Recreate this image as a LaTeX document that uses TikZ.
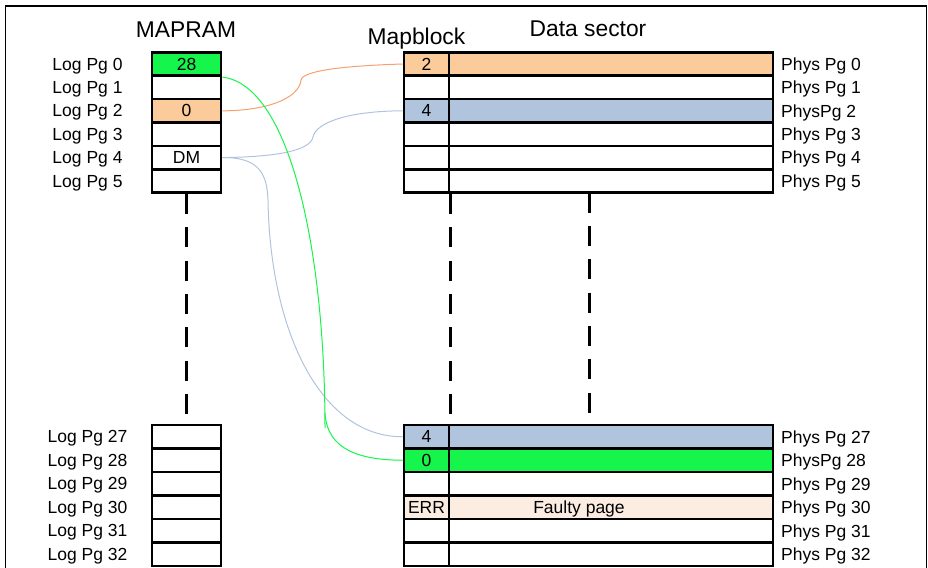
\documentclass[tikz,border=0pt]{standalone}
\usepackage{fontspec}
\setmainfont{Liberation Sans}
\usepackage{xcolor}

\definecolor{mapgreen}{RGB}{22,245,75}
\definecolor{maporange}{RGB}{251,203,155}
\definecolor{orangeline}{RGB}{245,160,112}
\definecolor{mapblue}{RGB}{176,196,222}
\definecolor{faulty}{RGB}{252,237,227}

\tikzset{
	cell/.style={draw, line width=2.8pt, minimum height=23.4pt, inner sep=0pt, text depth=0pt, font=\fontsize{17.5}{20}\selectfont},
	ramcell/.style={cell, minimum width=69pt},
	mbcell/.style={cell, minimum width=45pt},
	datacell/.style={cell, minimum width=324pt},
	pglabel/.style={inner sep=0pt, text depth=0pt, font=\fontsize{17.5}{20}\selectfont},
	title/.style={anchor=base, inner sep=0pt, font=\fontsize{22.8}{26}\selectfont},
	gap/.style={line width=3pt, dash pattern=on 20pt off 13.3pt},
	link/.style={line width=1pt}
}

\begin{document}
\begin{tikzpicture}[x=1pt, y=-1pt]
	\useasboundingbox (0,0) rectangle (928,567);
	\draw [line width=1.5pt] (5.3,6) rectangle (926.5,600);
	\node [title] (mapram) at (186,37.3) {MAPRAM};
	\node [title] (mapblock) at (416.5,45) {Mapblock};
	\node [title] (datasector) at (588,36.7) {Data sector};
	% upper pages
	\foreach \i/\phys in {0/Phys Pg 0, 1/Phys Pg 1, 2/PhysPg 2, 3/Phys Pg 3, 4/Phys Pg 4, 5/Phys Pg 5} {
		\node [ramcell] (m\i) at (186.5,{64+23.4*\i}) {};
		\node [mbcell] (mb\i) at (426.5,{64+23.4*\i}) {};
		\node [datacell] (d\i) at (611,{64+23.4*\i}) {};
		\node [pglabel] (log\i) at (87.5,{64+23.4*\i}) {Log Pg \i};
		\node [pglabel, anchor=west] (phys\i) at (781,{64+23.4*\i}) {\phys};
	}
	% lower pages
	\foreach \i/\n/\phys in {0/27/Phys Pg 27, 1/28/PhysPg 28, 2/29/Phys Pg 29, 3/30/Phys Pg 30, 4/31/Phys Pg 31, 5/32/Phys Pg 32} {
		\node [ramcell, minimum height=23.5pt] (m\n) at (186.5,{436.75+23.5*\i}) {};
		\node [mbcell, minimum height=23.5pt] (mb\n) at (426.5,{436.75+23.5*\i}) {};
		\node [datacell, minimum height=23.5pt] (d\n) at (611,{436.75+23.5*\i}) {};
		\node [pglabel] (log\n) at (87.5,{436.75+23.5*\i}) {Log Pg \n};
		\node [pglabel, anchor=west] (phys\n) at (781,{436.75+23.5*\i}) {\phys};
	}
	% filled entries
	\node [ramcell, fill=mapgreen] (m0) at (m0) {28};
	\node [ramcell, fill=maporange] (m2) at (m2) {0};
	\node [ramcell] (m4) at (m4) {DM};
	\node [mbcell, fill=maporange] (mb0) at (mb0) {2};
	\node [datacell, fill=maporange] (d0) at (d0) {};
	\node [mbcell, fill=mapblue] (mb2) at (mb2) {4};
	\node [datacell, fill=mapblue] (d2) at (d2) {};
	\node [mbcell, fill=mapblue, minimum height=23.5pt] (mb27) at (mb27) {4};
	\node [datacell, fill=mapblue, minimum height=23.5pt] (d27) at (d27) {};
	\node [mbcell, fill=mapgreen, minimum height=23.5pt] (mb28) at (mb28) {0};
	\node [datacell, fill=mapgreen, minimum height=23.5pt] (d28) at (d28) {};
	\node [mbcell, fill=faulty, minimum height=23.5pt] (mb30) at (mb30) {ERR};
	\node [datacell, fill=faulty, minimum height=23.5pt] (d30) at (d30) {};
	\node [pglabel] (faultytext) at (579,507.25) {Faulty page};
	% skipped pages
	\coordinate (gaptop) at (589,192.7);
	\coordinate (gapbot) at (589,425);
	\draw [gap] (m5.south) -- (m27.north);
	\draw [gap] (mb5.south east) -- (mb27.north east);
	\draw [gap] (gaptop) -- (gapbot);
	% links
	\draw [link, orangeline] (m2.east) .. controls (262,111) and (299,100) .. (301,80) .. controls (303,71) and (340,66) .. (mb0.west);
	\draw [link, mapblue] (m4.east) .. controls (270,157) and (310,152) .. (313,137) .. controls (316,122) and (350,111) .. (mb2.west);
	\draw [link, mapblue] (m4.east) .. controls (260,157) and (267,175) .. (268,200) .. controls (270,330) and (320,437) .. (mb27.west);
	\draw [link, mapgreen] (m0.south east) .. controls (290,85) and (325,250) .. (325,428);
	\coordinate (greenturn) at (325,413);
	\draw [link, mapgreen] (greenturn) .. controls (327,450) and (360,460) .. (mb28.west);
\end{tikzpicture}
\end{document}
